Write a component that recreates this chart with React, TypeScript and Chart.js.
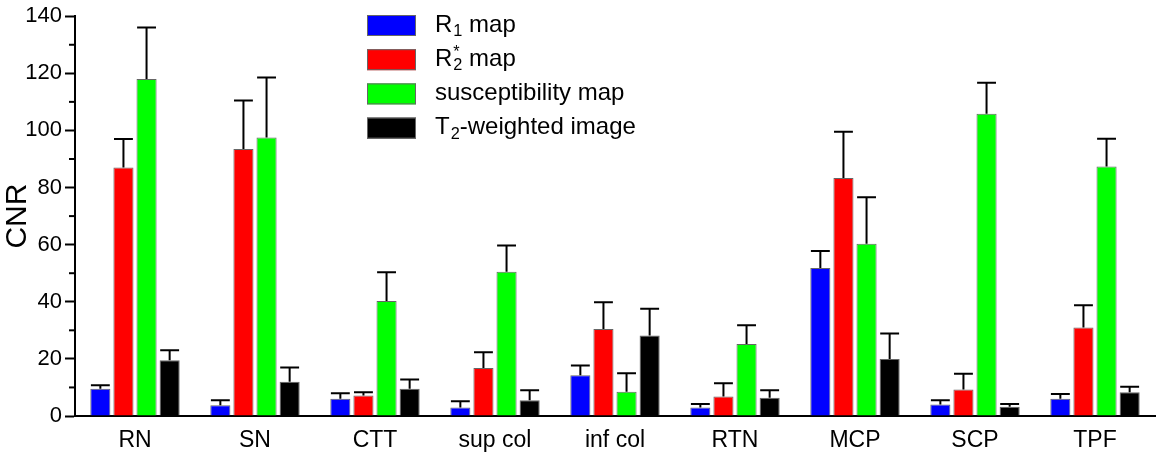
import React, { useRef, useEffect } from "react";
import { Chart, registerables } from "chart.js";

Chart.register(...registerables);

const categories = ["RN", "SN", "CTT", "sup col", "inf col", "RTN", "MCP", "SCP", "TPF"];

// legend markup: _{..} subscript, ^{..} superscript
const seriesNames = ["R_{1} map", "R_{2}^{*} map", "susceptibility map", "T_{2}-weighted image"];
const seriesColors = ["#0000ff", "#ff0000", "#00ff00", "#000000"];

const r1Values = [9.5, 3.8, 6, 3, 14.3, 3, 51.8, 4, 6];
const r1Errors = [1.3, 1.7, 2, 2.2, 3.4, 1.2, 6, 1.5, 1.7];
const r2Values = [87, 93.5, 7.2, 16.8, 30.5, 6.8, 83.3, 9.3, 31];
const r2Errors = [10, 17, 1.1, 5.5, 9.3, 4.7, 16.2, 5.5, 7.8];
const qsmValues = [118, 97.5, 40.3, 50.5, 8.5, 25.2, 60.3, 105.8, 87.4];
const qsmErrors = [18, 21, 10, 9.2, 6.5, 6.6, 16.3, 10.9, 9.7];
const t2Values = [19.5, 12, 9.5, 5.5, 28.2, 6.4, 20, 3.2, 8.3];
const t2Errors = [3.5, 5, 3.3, 3.5, 9.4, 2.6, 8.9, 1, 1.9];

const seriesValues = [r1Values, r2Values, qsmValues, t2Values];
const seriesErrors = [r1Errors, r2Errors, qsmErrors, t2Errors];

const FONT = "'Liberation Sans', Arial, sans-serif";

const errorBars = {
  id: "errorBars",
  afterDatasetsDraw(chart: any) {
    const { ctx } = chart;
    const y = chart.scales.y;
    ctx.save();
    ctx.strokeStyle = "#000";
    ctx.lineWidth = 2;
    chart.data.datasets.forEach((ds: any, di: number) => {
      const meta = chart.getDatasetMeta(di);
      meta.data.forEach((bar: any, i: number) => {
        const top = y.getPixelForValue(ds.data[i] + seriesErrors[di][i]);
        const half = bar.width * 0.47;
        ctx.beginPath();
        ctx.moveTo(bar.x, bar.y);
        ctx.lineTo(bar.x, top);
        ctx.moveTo(bar.x - half, top);
        ctx.lineTo(bar.x + half, top);
        ctx.stroke();
      });
    });
    ctx.restore();
  },
};

const minorTicks = {
  id: "minorTicks",
  afterDraw(chart: any) {
    const { ctx } = chart;
    const y = chart.scales.y;
    ctx.save();
    ctx.strokeStyle = "#000";
    ctx.lineWidth = 2;
    for (let v = 10; v < 140; v += 20) {
      const py = y.getPixelForValue(v);
      ctx.beginPath();
      ctx.moveTo(y.right - 6, py);
      ctx.lineTo(y.right, py);
      ctx.stroke();
    }
    ctx.restore();
  },
};

function drawRich(ctx: CanvasRenderingContext2D, text: string, x: number, y: number, size: number) {
  const re = /(_\{[^}]*\}|\^\{[^}]*\})/g;
  const parts = text.split(re).filter((p) => p !== "");
  let cx = x;
  let lastSubWidth = 0;
  parts.forEach((p) => {
    if (p.startsWith("_{")) {
      const t = p.slice(2, -1);
      ctx.font = `${size * 0.68}px ${FONT}`;
      ctx.fillText(t, cx + 1, y + size * 0.28);
      lastSubWidth = ctx.measureText(t).width + 1;
      cx += lastSubWidth;
    } else if (p.startsWith("^{")) {
      const t = p.slice(2, -1);
      ctx.font = `${size * 0.68}px ${FONT}`;
      const w = ctx.measureText(t).width;
      // stack over previous subscript
      const sx = cx - lastSubWidth + 1;
      ctx.fillText(t, sx, y - size * 0.3);
      cx = Math.max(cx, sx + w);
      lastSubWidth = 0;
    } else {
      ctx.font = `${size}px ${FONT}`;
      ctx.fillText(p, cx, y);
      cx += ctx.measureText(p).width;
      lastSubWidth = 0;
    }
  });
}

const boxLegend = {
  id: "boxLegend",
  afterDraw(chart: any) {
    const { ctx } = chart;
    ctx.save();
    ctx.textBaseline = "middle";
    ctx.textAlign = "left";
    seriesNames.forEach((name, i) => {
      const cy = 25 + i * 34.2;
      ctx.fillStyle = seriesColors[i];
      ctx.fillRect(367, cy - 10, 49, 21);
      ctx.strokeStyle = "#666";
      ctx.lineWidth = 1;
      ctx.strokeRect(367.5, cy - 9.5, 48, 20);
      ctx.fillStyle = "#000";
      drawRich(ctx, name, 435, cy, 24);
    });
    ctx.restore();
  },
};

export default function App() {
  const canvasRef = useRef<HTMLCanvasElement>(null);

  useEffect(() => {
    document.body.style.margin = "0";
    if (!canvasRef.current) return;
    const chart = new Chart(canvasRef.current, {
      type: "bar",
      data: {
        labels: categories,
        datasets: seriesValues.map((vals, i) => ({
          label: seriesNames[i],
          data: vals,
          backgroundColor: seriesColors[i],
          borderColor: "#666",
          borderWidth: 1,
          barPercentage: 0.87,
          categoryPercentage: 0.77,
        })),
      },
      options: {
        animation: false,
        responsive: false,
        layout: { padding: { top: 11, right: 3, left: 0, bottom: 0 } },
        plugins: { legend: { display: false }, tooltip: { enabled: false } },
        scales: {
          x: {
            grid: { display: false, drawTicks: false },
            border: { color: "#000", width: 2 },
            ticks: { color: "#000", font: { family: FONT, size: 23 }, padding: 11, maxRotation: 0 },
            afterFit: (s: any) => { s.height = 40; },
          },
          y: {
            min: 0,
            max: 140,
            ticks: { stepSize: 20, color: "#000", font: { family: FONT, size: 22 }, padding: 3 },
            grid: { drawOnChartArea: false, tickLength: 10, tickColor: "#000", tickWidth: 2 },
            border: { color: "#000", width: 2 },
            title: { display: true, text: "CNR", color: "#000", font: { family: FONT, size: 30 }, padding: 0 },
            afterFit: (s: any) => { s.width = 75; },
          },
        },
      },
      plugins: [errorBars, minorTicks, boxLegend],
    });
    return () => chart.destroy();
  }, []);

  return (
    <div style={{ width: 1158, height: 456, background: "#fff" }}>
      <canvas ref={canvasRef} width={1158} height={456} />
    </div>
  );
}
